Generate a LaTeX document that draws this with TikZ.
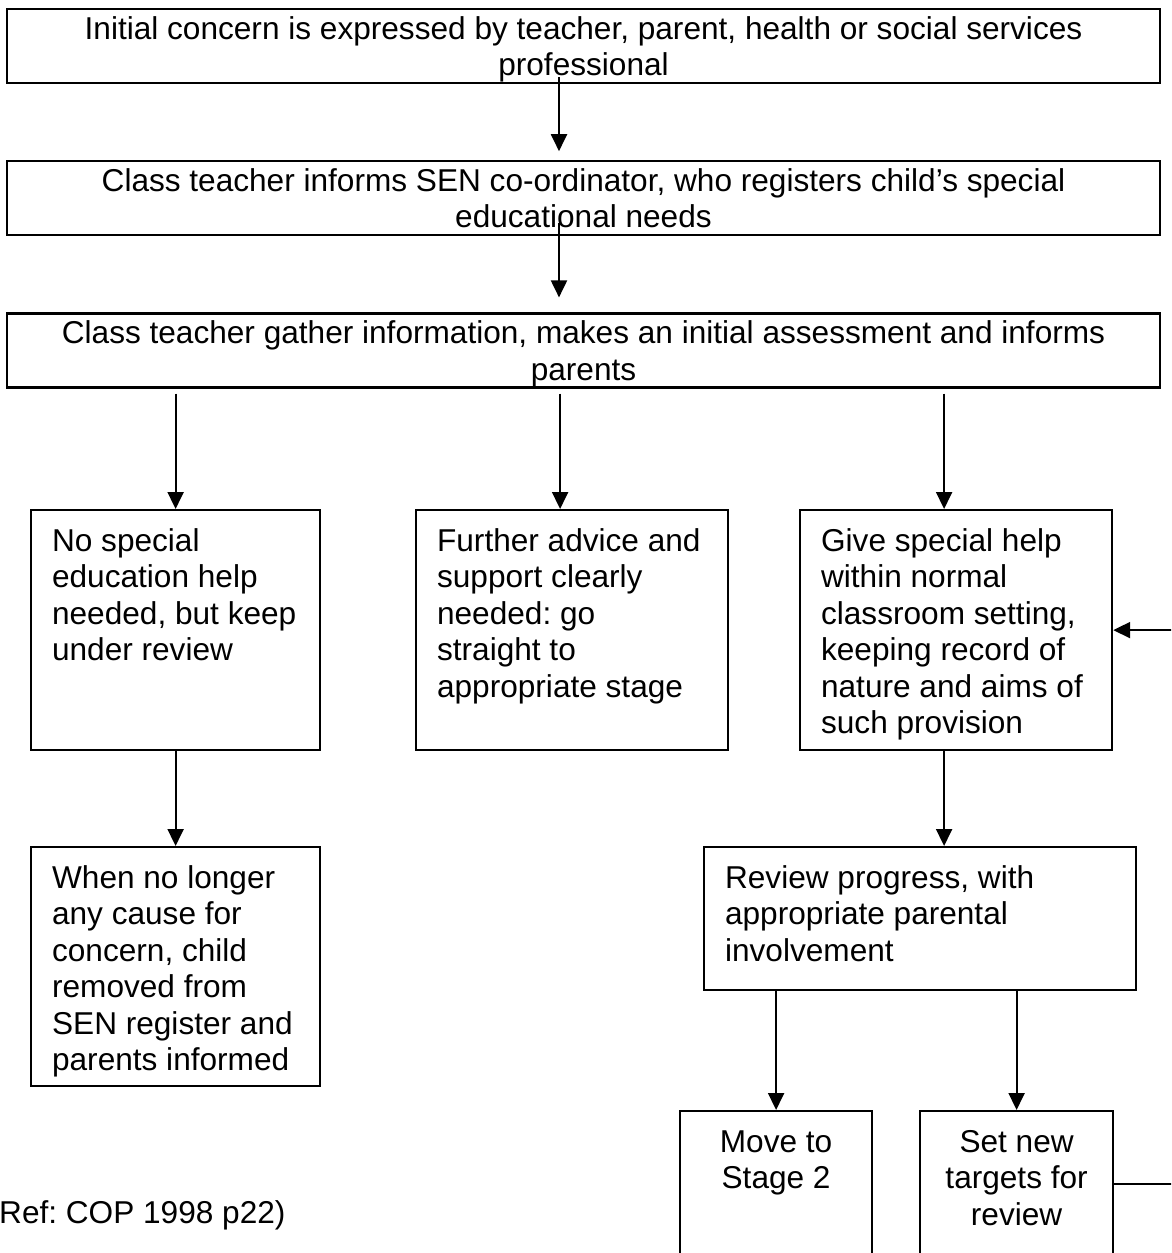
\documentclass[tikz,border=0pt]{standalone}
\usepackage{fontspec}
\setmainfont{Liberation Sans}
\usepackage{tikz}
\usetikzlibrary{positioning}
\usetikzlibrary{arrows.meta}
\frenchspacing

\newcommand{\boxtext}[4]{\parbox[c][#1][t]{#2}{#3\strut #4}}

\begin{document}
\begin{tikzpicture}[
x=1pt, y=-1pt,
>={Triangle[length=17pt, width=16pt]},
widebox/.style={rectangle, draw=black, line width=2.2pt, inner xsep=0pt, inner ysep=4.45pt, font=\fontsize{31.6}{36.5}\selectfont},
stepbox/.style={rectangle, draw=black, line width=2.2pt, inner xsep=21pt, inner ysep=15.45pt, anchor=north west, font=\fontsize{31.6}{36.5}\selectfont},
link/.style={->, line width=2pt},
]
\useasboundingbox[fill=white] (0,0) rectangle (1171,1253);
\clip (0,0) rectangle (1171,1253);

%Nodes
\node[widebox, anchor=north] (concern) at (583.5,8) {\boxtext{65.1pt}{1153pt}{\centering}{Initial concern is expressed by teacher, parent, health or social services\\ professional}};
\node[widebox] (inform) [below=76pt of concern] {\boxtext{65.1pt}{1153pt}{\centering}{Class teacher informs SEN co-ordinator, who registers child’s special\\ educational needs}};
\node[widebox] (gather) [below=76pt of inform] {\boxtext{65.1pt}{1153pt}{\centering}{Class teacher gather information, makes an initial assessment and informs\\ parents}};

\node[stepbox] (nohelp)  at (30,509)  {\boxtext{209.1pt}{247pt}{\raggedright}{No special\\ education help\\ needed, but keep\\ under review}};
\node[stepbox] (advice)  at (415,509) {\boxtext{209.1pt}{270pt}{\raggedright}{Further advice and\\ support clearly\\ needed: go\\ straight to\\ appropriate stage}};
\node[stepbox] (special) at (799,509) {\boxtext{209.1pt}{270pt}{\raggedright}{Give special help\\ within normal\\ classroom setting,\\ keeping record of\\ nature and aims of\\ such provision}};

\node[stepbox] (removed) at (30,846)  {\boxtext{208.1pt}{247pt}{\raggedright}{When no longer\\ any cause for\\ concern, child\\ removed from\\ SEN register and\\ parents informed}};
\node[stepbox] (review)  at (703,846) {\boxtext{112.1pt}{390pt}{\raggedright}{Review progress, with\\ appropriate parental\\ involvement}};

\node[stepbox] (stagetwo) at (679,1110) {\boxtext{115.1pt}{150pt}{\centering}{Move to\\ Stage 2}};
\node[stepbox] (targets)  at (919,1110) {\boxtext{115.1pt}{151pt}{\centering}{Set new\\ targets for\\ review}};

\node[anchor=base west, inner sep=0pt, font=\fontsize{31.6}{36.5}\selectfont] (source) at (-1,1223) {Ref: COP 1998 p22)};

%Lines
\draw[link] ([xshift=-24.5pt, yshift=7pt]concern.south) -- ([xshift=-24.5pt, yshift=9pt]inform.north);
\draw[link] ([xshift=-24.5pt, yshift=13pt]inform.south) -- ([xshift=-24.5pt, yshift=15pt]gather.north);
\draw[link] ([yshift=-5pt]gather.south -| nohelp.north) -- (nohelp.north);
\draw[link] ([xshift=-12pt, yshift=-5pt]gather.south -| advice.north) -- ([xshift=-12pt]advice.north);
\draw[link] ([xshift=-12pt, yshift=-5pt]gather.south -| special.north) -- ([xshift=-12pt]special.north);
\draw[link] (nohelp.south) -- (removed.north);
\draw[link] ([xshift=-12pt]special.south) -- ([xshift=-12pt]special.south |- review.north);
\draw[link] (review.south -| stagetwo.north) -- (stagetwo.north);
\draw[link] (review.south -| targets.north) -- (targets.north);
\draw[link] (targets.east) -- ++(70,0) |- (special.east);
\end{tikzpicture}
\end{document}
